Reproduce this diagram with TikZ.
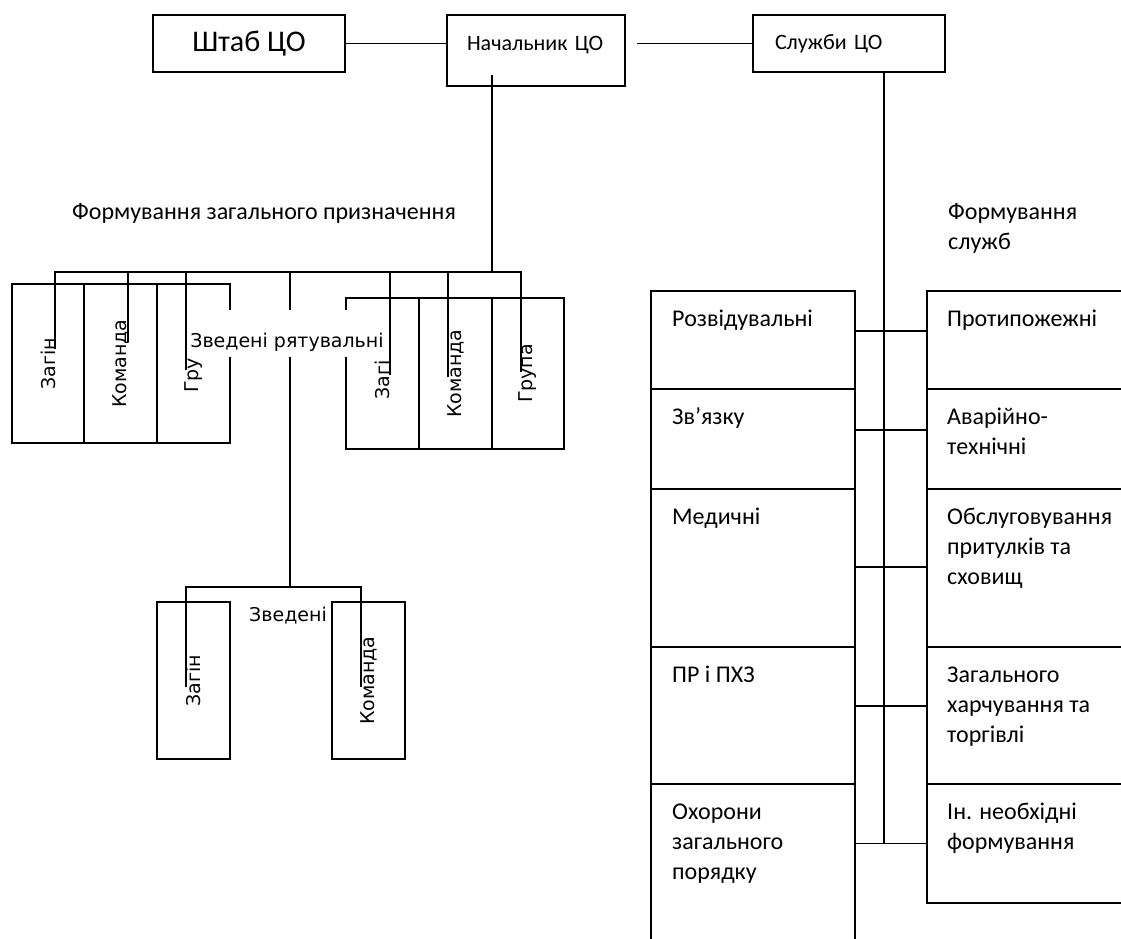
\documentclass[tikz,border=0pt]{standalone}
\usepackage{fontspec}
\setmainfont{Carlito}
\newfontfamily\dejavu{DejaVu Sans}
\usetikzlibrary{positioning}

\tikzset{
  box/.style={draw, rectangle, line width=1.5pt, inner sep=0pt, outer sep=0pt},
  link/.style={line width=1.5pt},
  cell/.style={box, rotate=90, font=\dejavu\fontsize{19}{23}\selectfont},
  txt/.style={inner sep=0pt, align=left, anchor=base west, font=\fontsize{24}{30}\selectfont},
}

\begin{document}
\begin{tikzpicture}[x=1pt, y=-1pt]
    \useasboundingbox (0,0) rectangle (1121,938);
    \clip (0,0) rectangle (1121,938);

    % Top row
    \node[box, minimum width=192pt, minimum height=57pt, font=\fontsize{30}{34}\selectfont] (hq) at (249,43.5) {Штаб ЦО};
    \node[box, text width=138pt, inner xsep=20pt, align=left, text height=35pt, text depth=36pt, font=\fontsize{22}{30}\selectfont] (chief) at (536,50.5) {Начальник ЦО};
    \node[box, text width=148pt, inner xsep=22pt, align=left, minimum height=57pt, font=\fontsize{22}{30}\selectfont] (services) at (849,43.5) {Служби ЦО};
    \draw[link] (hq.east) -- (hq.east -| chief.west);
    \draw[link] ([xshift=12pt, yshift=7pt]chief.east) -- (services.west);

    % Services formations (base = last line)
    \node[txt] (svcform) at (948,249) {Формування\\служб};
    \node[box, minimum width=204pt, minimum height=98pt] (recon) at (753,340) {};
    \node[box, minimum width=204pt, minimum height=100pt, below=0pt of recon] (signal) {};
    \node[box, minimum width=204pt, minimum height=158pt, below=0pt of signal] (medic) {};
    \node[box, minimum width=204pt, minimum height=137pt, below=0pt of medic] (chem) {};
    \node[box, minimum width=204pt, minimum height=176pt, below=0pt of chem] (guard) {};
    \node[box, minimum width=220pt, minimum height=98pt] (fire) at (1037,340) {};
    \node[box, minimum width=220pt, minimum height=100pt, below=0pt of fire] (rescue) {};
    \node[box, minimum width=220pt, minimum height=158pt, below=0pt of rescue] (shelter) {};
    \node[box, minimum width=220pt, minimum height=137pt, below=0pt of shelter] (food) {};
    \node[box, minimum width=220pt, minimum height=119pt, below=0pt of food] (misc) {};

    \node[txt] (recont) at ([xshift=21pt, yshift=-35pt]recon.north west) {Розвідувальні};
    \node[txt] (signalt) at ([xshift=21pt, yshift=-35pt]signal.north west) {Зв’язку};
    \node[txt] (medict) at ([xshift=21pt, yshift=-35pt]medic.north west) {Медичні};
    \node[txt] (chemt) at ([xshift=21pt, yshift=-35pt]chem.north west) {ПР і ПХЗ};
    \node[txt] (guardt) at ([xshift=21pt, yshift=-95pt]guard.north west) {Охорони\\загального\\порядку};
    \node[txt] (firet) at ([xshift=20pt, yshift=-35pt]fire.north west) {Протипожежні};
    \node[txt] (rescuet) at ([xshift=20pt, yshift=-65pt]rescue.north west) {Аварійно-\\технічні};
    \node[txt] (sheltert) at ([xshift=20pt, yshift=-95pt]shelter.north west) {Обслуговування\\притулків та\\сховищ};
    \node[txt] (foodt) at ([xshift=20pt, yshift=-95pt]food.north west) {Загального\\харчування та\\торгівлі};
    \node[txt] (misct) at ([xshift=20pt, yshift=-65pt]misc.north west) {Ін. необхідні\\формування};

    \draw[link] ([yshift=9pt]recon.east) -- ([yshift=9pt]fire.west);
    \draw[link] ([yshift=9pt]signal.east) -- ([yshift=9pt]rescue.west);
    \draw[link] ([yshift=1pt]medic.east) -- ([yshift=1pt]shelter.west);
    \draw[link] ([yshift=9.5pt]chem.east) -- ([yshift=9.5pt]food.west);
    \draw[link] (misc.west -| guard.east) -- (misc.west);
    \coordinate (sfoot) at (884,844);
    \draw[link] (services.south -| sfoot) -- (sfoot);

    % General purpose formations
    \node[txt] (genform) at (72,219) {Формування загального призначення};
    \node[cell, minimum width=159pt, minimum height=72pt] (zagin1) at (48,363.5) {Загін};
    \node[cell, minimum width=159pt, minimum height=73pt] (team1) at (120.5,363.5) {Команда};
    \node[cell, minimum width=159pt, minimum height=73pt] (group1) at (193.5,363.5) {Гру\phantom{па}};
    \node[cell, minimum width=151pt, minimum height=73pt] (zagin2) at (382.5,373.5) {Загі\phantom{н}};
    \node[cell, minimum width=151pt, minimum height=73pt] (team2) at (455.5,373.5) {Команда};
    \node[cell, minimum width=151pt, minimum height=72pt] (group2) at (528,373.5) {Група};
    \node[cell, minimum width=157pt, minimum height=73pt] (zagin3) at (193.5,680.5) {Загін};
    \node[cell, minimum width=157pt, minimum height=73pt] (team3) at (368.5,680.5) {Команда};
    \node[inner sep=0pt, font=\dejavu\fontsize{19}{23}\selectfont] (combined) at (288,616) {Зведені};

    \coordinate (chieffoot) at (492,75);
    \coordinate (gbus) at (492,272);
    \coordinate (cbus) at (290,587);
    \coordinate (z1tip) at (55,349);
    \coordinate (t1tip) at (128,342);
    \coordinate (g1tip) at (186,370);
    \coordinate (z2tip) at (390,375);
    \coordinate (t2tip) at (448,377);
    \coordinate (g2tip) at (521,372);
    \coordinate (z3tip) at (186,687);
    \coordinate (t3tip) at (361,687);

    \draw[link] (cbus |- gbus) -- (cbus);
    \draw[link] (z3tip) -- (z3tip |- cbus) -- (t3tip |- cbus) -- (t3tip);
    \node[fill=white, inner xsep=2pt, inner ysep=0pt, text height=37pt, text depth=10pt, anchor=base, font=\dejavu\fontsize{19}{23}\selectfont] (rescuelbl) at (287,347) {Зведені рятувальні};

    \draw[link] (chieffoot) -- (gbus);
    \draw[link] (z1tip) -- (z1tip |- gbus) -- (g2tip |- gbus) -- (g2tip);
    \foreach \tip in {t1tip, g1tip, z2tip, t2tip}
        \draw[link] (\tip |- gbus) -- (\tip);
\end{tikzpicture}
\end{document}
